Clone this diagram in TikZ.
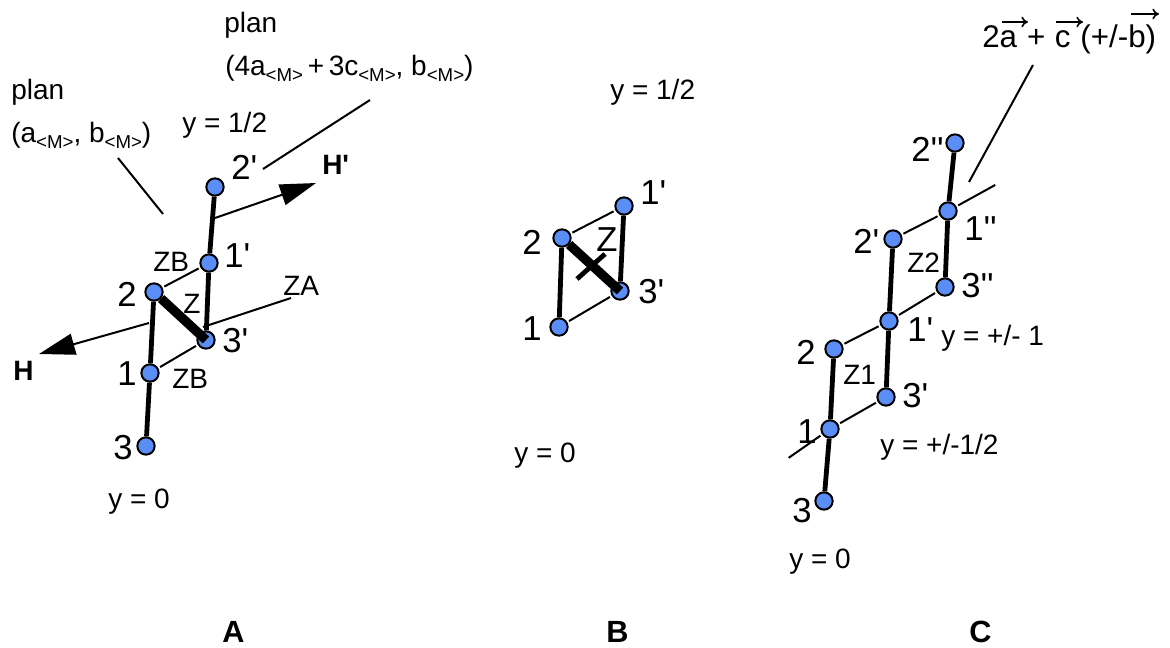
\documentclass[tikz,border=0pt]{standalone}
\usepackage{fontspec}
\setmainfont{Liberation Sans}[Ligatures=TeXOff]
\usepackage{xcolor}
\usetikzlibrary{arrows.meta}
\definecolor{ink}{HTML}{000000}
\definecolor{atomblue}{HTML}{5B8DF6}
\newcommand{\subM}{\raisebox{-4pt}{\fontsize{14}{14}\selectfont <M>}}
\tikzset{
  atom/.style={draw=ink,fill=atomblue,line width=1.5pt,circle,
               inner sep=0pt,minimum size=13pt},
  txt/.style={anchor=base west,inner sep=0pt,font=\fontsize{21}{25}\selectfont},
  num/.style={anchor=base west,inner sep=0pt,font=\fontsize{26}{30}\selectfont},
  boldtxt/.style={anchor=base west,inner sep=0pt,font=\fontsize{21}{25}\selectfont\bfseries},
  captxt/.style={anchor=base west,inner sep=0pt,font=\fontsize{23}{27}\selectfont\bfseries},
  bond/.style={line width=3.6pt,color=ink},
  wedgebond/.style={line width=7pt,color=ink},
  thinbond/.style={line width=1.5pt,color=ink,shorten <=1.5pt,shorten >=1.5pt},
  lead/.style={line width=1.5pt,color=ink},
  dirarr/.style={-{Triangle[length=27pt,width=16pt]},line width=1.5pt,color=ink},
  vecarr/.style={-{To[length=5pt,width=8pt]},line width=1.2pt,color=ink}
}

\begin{document}
\begin{tikzpicture}[x=0.75pt,y=-0.75pt]
  \useasboundingbox (0,0) rectangle (1170,648);

  % panel A
  \foreach \m/\x/\y in {a2p/215/187,a1p/209/263,a3p/206/340,a2/154/292,a1/150/373,a3/146/446} {
    \node[atom] (\m) at (\x,\y) {};
  }
  \draw[bond] (a2p) -- (a1p);
  \draw[bond] (a1p) -- (a3p);
  \draw[bond] (a2) -- (a1);
  \draw[bond] (a1) -- (a3);
  \draw[thinbond] (a1p) -- (a2);
  \draw[thinbond] (a1) -- (a3p);
  \draw[wedgebond] (a2) -- (a3p.center);
  \coordinate (zastart) at (203,327);
  \coordinate (zaend) at (291,298);
  \draw[lead] (zastart) -- (zaend);
  \coordinate (hstart) at (149,323);
  \coordinate (htip) at (39,354);
  \draw[dirarr] (hstart) -- (htip);
  \coordinate (hpstart) at (215,218);
  \coordinate (hptip) at (316,183);
  \draw[dirarr] (hpstart) -- (hptip);
  \coordinate (leadaa) at (118,158);
  \coordinate (leadab) at (163,214);
  \draw[lead] (leadaa) -- (leadab);
  \coordinate (leadba) at (370,100);
  \coordinate (leadbb) at (263,169);
  \draw[lead] (leadba) -- (leadbb);

  \node[txt] (planb) at (224,33) {plan};
  \node[txt] (planbval) at (225,76) {(4a\subM\,+\,3c\subM, b\subM)};
  \node[txt] (plana) at (11,100) {plan};
  \node[txt] (planaval) at (11,143) {(a\subM, b\subM)};
  \node[txt] (ya) at (182,133) {y = 1/2};
  \node[txt] (yb) at (108,508) {y = 0};
  \node[txt] (zba) at (153,272) {ZB};
  \node[txt] (zbb) at (172,388) {ZB};
  \node[txt] (za) at (283,296) {ZA};
  \node[txt] (zmid) at (183,314) {Z};
  \node[boldtxt] (hp) at (322,175) {H'};
  \node[boldtxt] (h) at (13,380) {H};
  \foreach \m/\x/\y/\t in {la2p/231/180/2',la1p/224/268/1',la3p/222/353/3',la2/117/307/2,la1/117/385/1,la3/113/459/3} {
    \node[num] (\m) at (\x,\y) {\t};
  }
  \node[captxt] (capa) at (222,642) {A};

  % panel B
  \foreach \m/\x/\y in {b1p/624/206,b2/562/238,b3p/620/291,b1/559/327} {
    \node[atom] (\m) at (\x,\y) {};
  }
  \draw[bond] (b2) -- (b1);
  \draw[bond] (b1p) -- (b3p);
  \draw[thinbond] (b1p) -- (b2);
  \draw[thinbond] (b1) -- (b3p);
  \draw[wedgebond] (b2) -- (b3p.center);
  \node[txt] (yc) at (610,100) {y = 1/2};
  \node[txt] (yd) at (514,462) {y = 0};
  \node[num] (zb) at (596,252) {Z};
  \coordinate (crossa) at (605,254);
  \coordinate (crossb) at (577,279);
  \draw[bond] (crossa) -- (crossb);
  \foreach \m/\x/\y/\t in {lb1p/640/205/1',lb2/522/255/2,lb3p/638/304/3',lb1/522/341/1} {
    \node[num] (\m) at (\x,\y) {\t};
  }
  \node[captxt] (capb) at (606,642) {B};

  % panel C
  \foreach \m/\x/\y in {c2pp/955/143,c1pp/948/211,c2p/893/239,c3pp/945/287,c1p/889/321,c2/834/349,c3p/886/397,c1/830/429,c3/824/501} {
    \node[atom] (\m) at (\x,\y) {};
  }
  \draw[bond] (c2pp) -- (c1pp);
  \draw[bond] (c1pp) -- (c3pp);
  \draw[bond] (c2p) -- (c1p);
  \draw[bond] (c1p) -- (c3p);
  \draw[bond] (c2) -- (c1);
  \draw[bond] (c1) -- (c3);
  \coordinate (cend) at (997,184);
  \coordinate (cstart) at (787,459);
  \draw[thinbond] (c2p) -- (c1pp);
  \draw[thinbond] (c1pp) -- (cend);
  \draw[thinbond] (c3pp) -- (c1p);
  \draw[thinbond] (c1p) -- (c2);
  \draw[thinbond] (c3p) -- (c1);
  \draw[thinbond] (c1) -- (cstart);
  \coordinate (leadca) at (1033,65);
  \coordinate (leadcb) at (969,182);
  \draw[lead] (leadca) -- (leadcb);

  \node[anchor=base west,inner sep=0pt,font=\fontsize{23.5}{28}\selectfont] (vecs) at (982,48)
    {2a\hspace{7.5pt}+\hspace{7pt}c\hspace{7.5pt}(+/-b)};
  \foreach \m/\xa/\xb/\y in {a/1002/1028/22,c/1056/1083/22,b/1131/1159/14} {
    \coordinate (vec\m s) at (\xa,\y);
    \coordinate (vec\m e) at (\xb,\y);
    \draw[vecarr] (vec\m s) -- (vec\m e);
  }
  \node[txt] (ye) at (941,345) {y = +/- 1};
  \node[txt] (yf) at (880,454) {y = +/-1/2};
  \node[txt] (yg) at (789,568) {y = 0};
  \node[txt] (ztwo) at (907,273) {Z2};
  \node[txt] (zone) at (843,384) {Z1};
  \foreach \m/\x/\y/\t in {lc2pp/911/162/2'',lc1pp/964/241/1'',lc2p/853/254/2',lc3pp/961/298/3'',lc1p/907/342/1',lc2/796/364/2,lc3p/902/407/3',lc1/797/443/1,lc3/792/522/3} {
    \node[num] (\m) at (\x,\y) {\t};
  }
  \node[captxt] (capc) at (969,642) {C};
\end{tikzpicture}
\end{document}
